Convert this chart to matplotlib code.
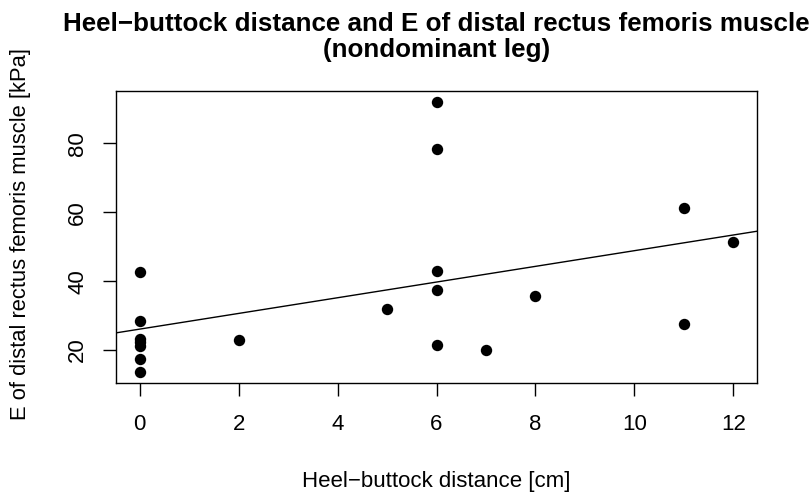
import numpy as np
import matplotlib
matplotlib.use("Agg")
import matplotlib.pyplot as plt

plt.rcParams['font.family'] = ['Liberation Sans', 'DejaVu Sans']

# heel-buttock distance [cm] and E of distal rectus femoris [kPa]
distance = [0, 0, 0, 0, 0, 0, 0, 2, 5, 6, 6, 6, 6, 6, 7, 8, 11, 11, 12]
elasticity = [42.7, 28.4, 23.3, 22.3, 21.3, 17.4, 13.6, 22.8, 31.8,
              92.0, 78.2, 42.8, 37.4, 21.5, 20.1, 35.6, 61.3, 27.5, 51.3]

x_ticks = [0, 2, 4, 6, 8, 10, 12]
y_ticks = [20, 40, 60, 80]

title_1 = "Heel\u2212buttock distance and E of distal rectus femoris muscle"
title_2 = "(nondominant leg)"
x_label = "Heel\u2212buttock distance [cm]"
y_label = "E of distal rectus femoris muscle [kPa]"

W, H = 811, 492
fig = plt.figure(figsize=(W / 100, H / 100), dpi=100)
left, right, top, bottom = 116, 757, 91, 383
ax = fig.add_axes([left / W, 1 - bottom / H, (right - left) / W, (bottom - top) / H])

x = np.array(distance, dtype=float)
y = np.array(elasticity, dtype=float)

ax.scatter(x, y, s=8.2 ** 2, color='black', zorder=3, linewidths=0)

# R-style 4% axis extension
def ext(v):
    r = v.max() - v.min()
    return v.min() - 0.04 * r, v.max() + 0.04 * r

xl = ext(x)
yl = ext(y)
ax.set_xlim(*xl)
ax.set_ylim(*yl)

# least squares line, drawn across the whole plot region (abline)
slope, icpt = np.polyfit(x, y, 1)
xx = np.array(xl)
ax.plot(xx, icpt + slope * xx, color='black', lw=1.0, zorder=2)

ax.set_xticks(x_ticks)
ax.set_yticks(y_ticks)
ax.tick_params(direction='out', length=9.5, width=1.0, labelsize=16,
               colors='black')
ax.tick_params(axis='x', pad=13)
ax.tick_params(axis='y', pad=10.5, labelrotation=90)
for lab in ax.get_yticklabels():
    lab.set_va('center')
for sp in ax.spines.values():
    sp.set_linewidth(1.0)

fig.text(436.5 / W, 1 - 30.7 / H, title_1, ha='center', va='baseline',
         fontsize=18.7, fontweight='bold')
fig.text(436.5 / W, 1 - 57.3 / H, title_2, ha='center', va='baseline',
         fontsize=18.7, fontweight='bold')
fig.text(436.5 / W, 1 - 486.5 / H, x_label, ha='center', va='baseline',
         fontsize=16)
fig.text(21 / W, 1 - 233.5 / H, y_label, ha='center', va='center',
         rotation=90, fontsize=15.8)

fig.savefig("out.png", dpi=100)
